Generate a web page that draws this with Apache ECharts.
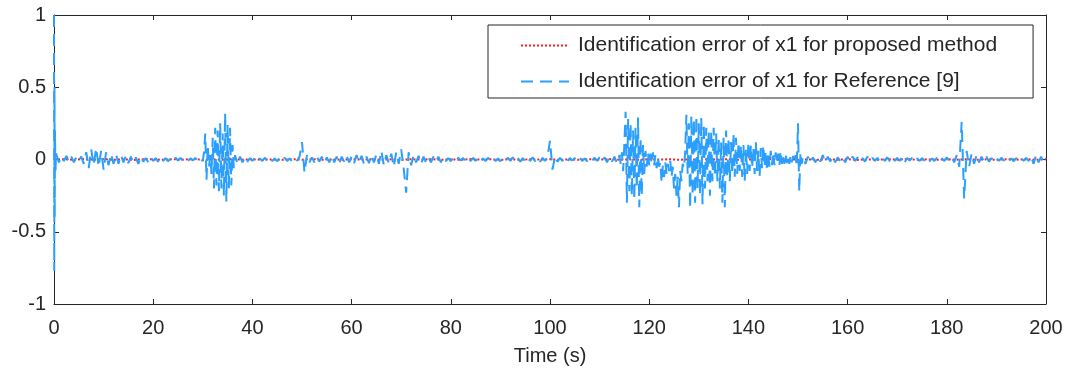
<!DOCTYPE html>
<html>
<head>
<meta charset="utf-8">
<script src="https://cdn.jsdelivr.net/npm/echarts@6/dist/echarts.min.js"></script>
<style>
html,body{margin:0;padding:0;background:#fff;}
#chart{width:1070px;height:372px;}
</style>
</head>
<body>
<div id="chart"></div>
<script>
// ---- data ----
const seriesNames = ['Identification error of x1 for proposed method', 'Identification error of x1 for Reference [9]'];
const xTicks = [0, 20, 40, 60, 80, 100, 120, 140, 160, 180, 200];
const yTicks = [-1, -0.5, 0, 0.5, 1];

// initial transient of Reference [9] error (t in s)
const transientTime = [0, 0.05, 0.1, 0.15, 0.2, 0.3, 0.4];
const transientRef = [1, -0.77, 0.5, -0.4, 0.2, -0.1, 0.05];

// Reference [9] error, sampled every 0.5 s from t = 0.5 s to 200 s
const refStep = 0.5;
const refErr = [
  0.03, -0.02, 0.02, -0.01, 0.025, -0.015, 0.02, -0.02, 0.015, -0.01,
  0.02, -0.03, 0.05, -0.06, 0.07, -0.04, 0.08, -0.05, 0.06, -0.07,
  0.05, -0.04, 0.04, -0.03, 0.035, -0.03, 0.03, -0.02, 0.025, -0.025,
  0.02, -0.02, 0.015, -0.03, 0.02, -0.015, 0.01, -0.02, 0.015, -0.01,
  0.01, -0.015, 0.012, -0.01, 0.01, -0.012, 0.008, -0.01, 0.012, -0.008,
  0.01, -0.008, 0.006, -0.01, 0.008, -0.006, 0.01, -0.008, 0.01, -0.012,
  0.18, -0.14, 0.04, 0.15, -0.2, 0.2, -0.22, 0.18, 0.32, -0.29,
  0.22, -0.18, 0.05, -0.03, 0.02, -0.02, 0.015, -0.015, 0.01, -0.01,
  0.01, -0.012, 0.008, -0.01, 0.012, -0.008, 0.01, -0.01, 0.008, -0.012,
  0.01, -0.008, 0.012, -0.01, 0.008, -0.012, 0.01, -0.008, 0.02, 0.12,
  -0.09, 0.03, -0.02, 0.015, -0.02, 0.02, -0.015, 0.02, -0.02, 0.015,
  -0.02, 0.025, -0.02, 0.02, -0.03, 0.02, -0.015, 0.025, -0.02, 0.02,
  -0.025, 0.03, -0.02, 0.025, -0.03, 0.02, -0.025, 0.03, -0.02, 0.035,
  -0.03, 0.06, -0.04, 0.03, -0.025, 0.04, -0.05, 0.05, -0.03, 0.07,
  -0.06, -0.23, 0.05, -0.04, 0.03, -0.02, 0.025, -0.03, 0.02, -0.02,
  0.015, -0.02, 0.02, -0.015, 0.02, -0.02, 0.015, -0.012, 0.01, -0.012,
  0.01, -0.01, 0.012, -0.008, 0.01, -0.012, 0.008, -0.01, 0.012, -0.01,
  0.01, -0.012, 0.008, -0.01, 0.012, -0.008, 0.01, -0.01, 0.008, -0.012,
  0.01, -0.008, 0.012, -0.01, 0.015, -0.01, 0.012, -0.015, 0.01, -0.012,
  0.012, -0.01, 0.015, -0.012, 0.01, -0.015, 0.012, -0.01, 0.02, 0.13,
  -0.07, 0.02, -0.015, 0.012, -0.01, 0.01, -0.012, 0.01, -0.008, 0.01,
  -0.01, 0.012, -0.01, 0.008, -0.012, 0.01, -0.008, 0.012, -0.01, 0.015,
  -0.012, 0.015, -0.02, 0.02, -0.015, 0.02, -0.025, 0.03, -0.05, 0.1,
  0.33, -0.3, 0.25, -0.25, 0.2, -0.28, 0.29, -0.33, 0.15, -0.1,
  0.05, -0.04, 0.03, -0.06, -0.16, -0.05, -0.1, -0.03, -0.12, -0.2,
  -0.25, -0.33, -0.15, -0.06, 0.31, -0.34, 0.28, -0.2, 0.3, -0.25,
  0.29, -0.31, 0.25, -0.2, 0.22, -0.25, 0.2, -0.15, 0.18, -0.3,
  0.2, -0.33, 0.15, -0.15, 0.18, -0.12, 0.15, -0.1, 0.12, -0.15,
  0.1, -0.08, 0.12, -0.1, 0.08, -0.12, 0.1, -0.06, 0.08, -0.05,
  0.05, -0.04, 0.06, -0.03, 0.04, -0.03, 0.03, -0.02, 0.03, 0.25,
  -0.22, 0.05, -0.03, 0.02, -0.02, 0.015, -0.02, 0.02, -0.015, 0.03,
  -0.02, 0.02, -0.015, 0.02, -0.02, 0.015, -0.01, 0.015, -0.02, 0.02,
  -0.015, 0.02, -0.01, 0.015, -0.012, 0.01, -0.015, 0.02, -0.01, 0.012,
  -0.01, 0.012, -0.015, 0.01, -0.01, 0.015, -0.012, 0.01, -0.01, 0.012,
  -0.01, 0.015, -0.02, 0.01, -0.008, 0.01, -0.012, 0.008, -0.01, 0.01,
  -0.008, 0.01, -0.012, 0.008, -0.01, 0.012, -0.01, 0.008, -0.01, 0.015,
  -0.01, 0.015, -0.02, 0.03, -0.05, 0.26, -0.27, 0.06, -0.05, 0.04,
  -0.03, 0.03, -0.02, 0.02, -0.015, 0.02, -0.015, 0.01, -0.012, 0.01,
  -0.01, 0.012, -0.008, 0.01, -0.01, 0.008, -0.012, 0.01, -0.008, 0.01,
  -0.01, 0.012, -0.01, 0.02, -0.03, 0.03, -0.02, 0.02, -0.02, 0.01
];

// finer 0.25 s samples inside the two burst regions (replace the 0.5 s samples there)
const burstStep = 0.25;
const burstAStart = 30.25;
const burstA = [
  0.05, 0.18, -0.14, 0.1, -0.05, 0.03, -0.1, 0.15, -0.2, 0.22,
  -0.18, 0.2, -0.22, 0.25, -0.2, 0.18, -0.25, 0.32, -0.29, 0.24,
  -0.2, 0.22, -0.18, 0.1, -0.06, 0.03
];
const burstBStart = 114.25;
const burstB = [
  -0.03, 0.05, -0.08, 0.12,   0.33, -0.3, 0.28, -0.22,    0.25, -0.25, 0.2, -0.28,
  0.22, -0.2, 0.29, -0.33,    0.15, -0.25, 0.1, -0.1,     0.06, -0.05, 0.05, -0.04,
  0.04, -0.03, 0.05, -0.04,   0.03, -0.06, 0.02, -0.05,   -0.02, -0.16, -0.04, -0.12,
  -0.02, -0.1, -0.03, -0.08,  -0.01, -0.12, -0.05, -0.2,  -0.1, -0.25, -0.12, -0.33,
  -0.08, -0.15, -0.03, -0.06, 0.05, 0.31, -0.1, 0.25,     -0.34, 0.3, -0.25, 0.28,
  -0.3, 0.3, -0.2, 0.25,      -0.25, 0.29, -0.31, 0.25,   -0.2, 0.22, -0.15, 0.2,
  -0.25, 0.2, -0.15, 0.22,    -0.12, 0.18, -0.15, 0.15,   -0.2, 0.12, -0.3, 0.15,
  -0.33, 0.2, -0.12, 0.15,    -0.15, 0.12, -0.1, 0.18,    -0.12, 0.15, -0.1, 0.12,
  -0.08, 0.1, -0.12, 0.1,     -0.15, 0.08, -0.1, 0.12,    -0.08, 0.1, -0.06, 0.08,
  -0.1, 0.12, -0.08, 0.06,    -0.12, 0.08, -0.06, 0.1,    -0.05, 0.06, -0.08, 0.05,
  -0.05, 0.06, -0.04, 0.05,   -0.04, 0.05, -0.03, 0.04,   -0.04, 0.06, -0.03, 0.03,
  -0.03, 0.04, -0.025, 0.03,  -0.03, 0.03, -0.02, 0.025,  -0.02, 0.03, -0.05, 0.25,
  -0.22, 0.05, -0.03, 0.02
];

// proposed method error, sampled every 2 s from t = 0 to 200 s
const propStep = 2;
const propErr = [
  0, 0.002, -0.002, 0.003, -0.001, 0.002, -0.002, 0.001, -0.003, 0.002,
  0.001, -0.002, 0.002, -0.001, 0.003, -0.002, 0.001, -0.002, 0.002, -0.001,
  0.002, -0.003, 0.001, -0.002, 0.002, -0.001, 0.003, -0.002, 0.001, -0.002,
  0.002, -0.001, 0.002, -0.002, 0.001, -0.003, 0.002, -0.001, 0.002, -0.002,
  0.001, -0.002, 0.003, -0.001, 0.002, -0.002, 0.001, -0.002, 0.002, -0.001,
  0.002, -0.003, 0.001, -0.002, 0.002, -0.001, 0.003, -0.002, 0.001, -0.002,
  0.002, -0.001, 0.002, -0.002, 0.001, -0.003, 0.002, -0.001, 0.002, -0.002,
  0.001, -0.002, 0.003, -0.001, 0.002, -0.002, 0.001, -0.002, 0.002, -0.001,
  0.002, -0.003, 0.001, -0.002, 0.002, -0.001, 0.003, -0.002, 0.001, -0.002,
  0.002, -0.001, 0.002, -0.002, 0.001, -0.003, 0.002, -0.001, 0.002, -0.002,
  0.001
];

// ---- build series data ----
const burstAPairs = burstA.map((v, i) => [burstAStart + i * burstStep, v]);
const burstBPairs = burstB.map((v, i) => [burstBStart + i * burstStep, v]);
const aEnd = burstAPairs[burstAPairs.length - 1][0];
const bEnd = burstBPairs[burstBPairs.length - 1][0];
const coarsePairs = refErr.map((v, i) => [(i + 1) * refStep, v])
  .filter(p => !(p[0] >= burstAStart && p[0] <= aEnd) && !(p[0] >= burstBStart && p[0] <= bEnd));
const refData = transientTime.map((t, i) => [t, transientRef[i]])
  .concat(coarsePairs, burstAPairs, burstBPairs)
  .sort((a, b) => a[0] - b[0]);
const propData = propErr.map((v, i) => [i * propStep, v]);

const axisColor = '#262626';
const fontFamily = '"Liberation Sans", Arial, Helvetica, sans-serif';

function xAx(pos, labels) {
  return {
    type: 'value', position: pos, min: xTicks[0], max: xTicks[xTicks.length - 1], interval: 20,
    axisLine: { show: true, onZero: false, lineStyle: { color: axisColor, width: 1 } },
    axisTick: { show: true, inside: true, length: 5, lineStyle: { color: axisColor } },
    axisLabel: { show: labels, color: axisColor, fontSize: 20, fontFamily: fontFamily, margin: 14 },
    splitLine: { show: false },
    name: labels ? 'Time (s)' : '', nameLocation: 'middle', nameGap: 42,
    nameTextStyle: { color: axisColor, fontSize: 20, fontFamily: fontFamily }
  };
}
function yAx(pos, labels) {
  return {
    type: 'value', position: pos, min: yTicks[0], max: yTicks[yTicks.length - 1], interval: 0.5,
    axisLine: { show: true, onZero: false, lineStyle: { color: axisColor, width: 1 } },
    axisTick: { show: true, inside: true, length: 5, lineStyle: { color: axisColor } },
    axisLabel: { show: labels, color: axisColor, fontSize: 20, fontFamily: fontFamily, margin: 8 },
    splitLine: { show: false }
  };
}

const chart = echarts.init(document.getElementById('chart'), null, { renderer: 'canvas' });
chart.setOption({
  animation: false,
  backgroundColor: '#ffffff',
  grid: { left: 54, right: 24, top: 15, bottom: 68, containLabel: false },
  xAxis: [xAx('bottom', true), xAx('top', false)],
  yAxis: [yAx('left', true), yAx('right', false)],
  legend: {
    orient: 'vertical', left: 488, top: 25,
    padding: [10, 36, 6, 32],
    itemGap: 15, itemWidth: 48, itemHeight: 20,
    borderColor: axisColor, borderWidth: 1, borderRadius: 0,
    backgroundColor: '#ffffff',
    itemStyle: { color: 'rgba(0,0,0,0)', borderWidth: 0, borderColor: 'rgba(0,0,0,0)' },
    textStyle: { color: axisColor, fontSize: 21, fontFamily: fontFamily, padding: [0, 0, 0, 4] },
    data: seriesNames
  },
  series: [
    {
      name: seriesNames[0], type: 'line', xAxisIndex: 0, yAxisIndex: 0,
      data: propData, symbol: 'none', z: 2,
      lineStyle: { color: '#ff1a1a', width: 2, type: [2, 2] },
      itemStyle: { color: '#ff1a1a' }
    },
    {
      name: seriesNames[1], type: 'line', xAxisIndex: 0, yAxisIndex: 0,
      data: refData, symbol: 'none', z: 3,
      lineStyle: { color: '#2a9fff', width: 2, type: [12, 7] },
      itemStyle: { color: '#2a9fff' }
    }
  ]
});
</script>
</body>
</html>
